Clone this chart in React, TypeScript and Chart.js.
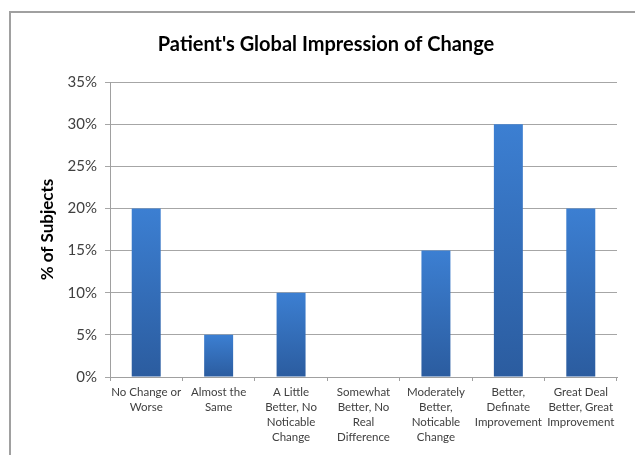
import React, { useEffect, useRef } from "react";
import { Chart, registerables } from "chart.js";

Chart.register(...registerables);

const categories: string[][] = [
  ["No Change or", "Worse"],
  ["Almost the", "Same"],
  ["A Little", "Better, No", "Noticable", "Change"],
  ["Somewhat", "Better, No", "Real", "Difference"],
  ["Moderately", "Better,", "Noticable", "Change"],
  ["Better,", "Definate", "Improvement"],
  ["Great Deal", "Better, Great", "Improvement"],
];
const values: number[] = [20, 5, 10, 0, 15, 30, 20];
const yTicks: number[] = [0, 5, 10, 15, 20, 25, 30, 35];

const FONT = "Lato, 'Open Sans', sans-serif";

const framePlugin = {
  id: "frame",
  beforeDraw(chart: any) {
    const c = chart.ctx;
    c.save();
    c.fillStyle = "#ffffff";
    c.fillRect(0, 0, chart.width, chart.height);
    c.strokeStyle = "#a0a0a0";
    c.lineWidth = 2;
    c.beginPath();
    c.moveTo(10, chart.height);
    c.lineTo(10, 12);
    c.lineTo(chart.width, 12);
    c.stroke();
    c.restore();
  },
};

export default function App() {
  const ref = useRef<HTMLCanvasElement | null>(null);
  useEffect(() => {
    if (!ref.current) return;
    const chart = new Chart(ref.current, {
      type: "bar",
      data: {
        labels: categories,
        datasets: [
          {
            data: values,
            barPercentage: 0.4,
            categoryPercentage: 1,
            borderWidth: 0,
            backgroundColor: (ctx: any) => {
              const ch = ctx.chart;
              const area = ch.chartArea;
              if (!area || ctx.type !== "data" || !ch.scales.y) return "#3470c0";
              const top = ch.scales.y.getPixelForValue(ctx.raw);
              const bottom = ch.scales.y.getPixelForValue(0);
              if (!(bottom > top)) return "#3470c0";
              const g = ch.ctx.createLinearGradient(0, top, 0, bottom);
              g.addColorStop(0, "#3c7fd2");
              g.addColorStop(1, "#2b5c9f");
              return g;
            },
          },
        ],
      },
      options: {
        responsive: false,
        animation: false,
        layout: { padding: { left: 35, right: 18, top: 0, bottom: 0 } },
        plugins: {
          legend: { display: false },
          tooltip: { enabled: false },
          title: {
            display: true,
            text: "Patient's Global Impression of Change",
            color: "#000000",
            font: { family: FONT, size: 20, weight: "bold" },
            padding: { top: 33, bottom: 25 },
          },
        },
        scales: {
          x: {
            offset: true,
            grid: {
              display: true,
              drawOnChartArea: false,
              drawTicks: true,
              tickLength: 4,
              color: "#a0a0a0",
              offset: true,
            },
            border: { display: true, color: "#a0a0a0" },
            ticks: {
              color: "#404040",
              font: { family: FONT, size: 11.5, lineHeight: 1.3 },
              padding: 4,
              maxRotation: 0,
              autoSkip: false,
            },
            afterFit: (s: any) => {
              s.height = 78;
            },
          },
          y: {
            min: 0,
            max: 35,
            afterBuildTicks: (s: any) => {
              s.ticks = yTicks.map((v) => ({ value: v }));
            },
            grid: { color: "#a6a6a6", tickLength: 5 },
            border: { display: true, color: "#a0a0a0" },
            ticks: {
              color: "#404040",
              font: { family: FONT, size: 15 },
              padding: 8,
              callback: (v: any) => v + "%",
            },
            title: {
              display: true,
              text: "% of Subjects",
              color: "#000000",
              font: { family: FONT, size: 17, weight: "bold" },
              padding: { top: 2, bottom: 0 },
            },
            afterFit: (s: any) => {
              s.width = 75;
            },
          },
        },
      },
      plugins: [framePlugin],
    });
    return () => chart.destroy();
  }, []);
  return (
    <div style={{ position: "fixed", left: 0, top: 0, width: 635, height: 455, background: "#fff" }}>
      <canvas ref={ref} width={635} height={455} style={{ display: "block" }} />
    </div>
  );
}
